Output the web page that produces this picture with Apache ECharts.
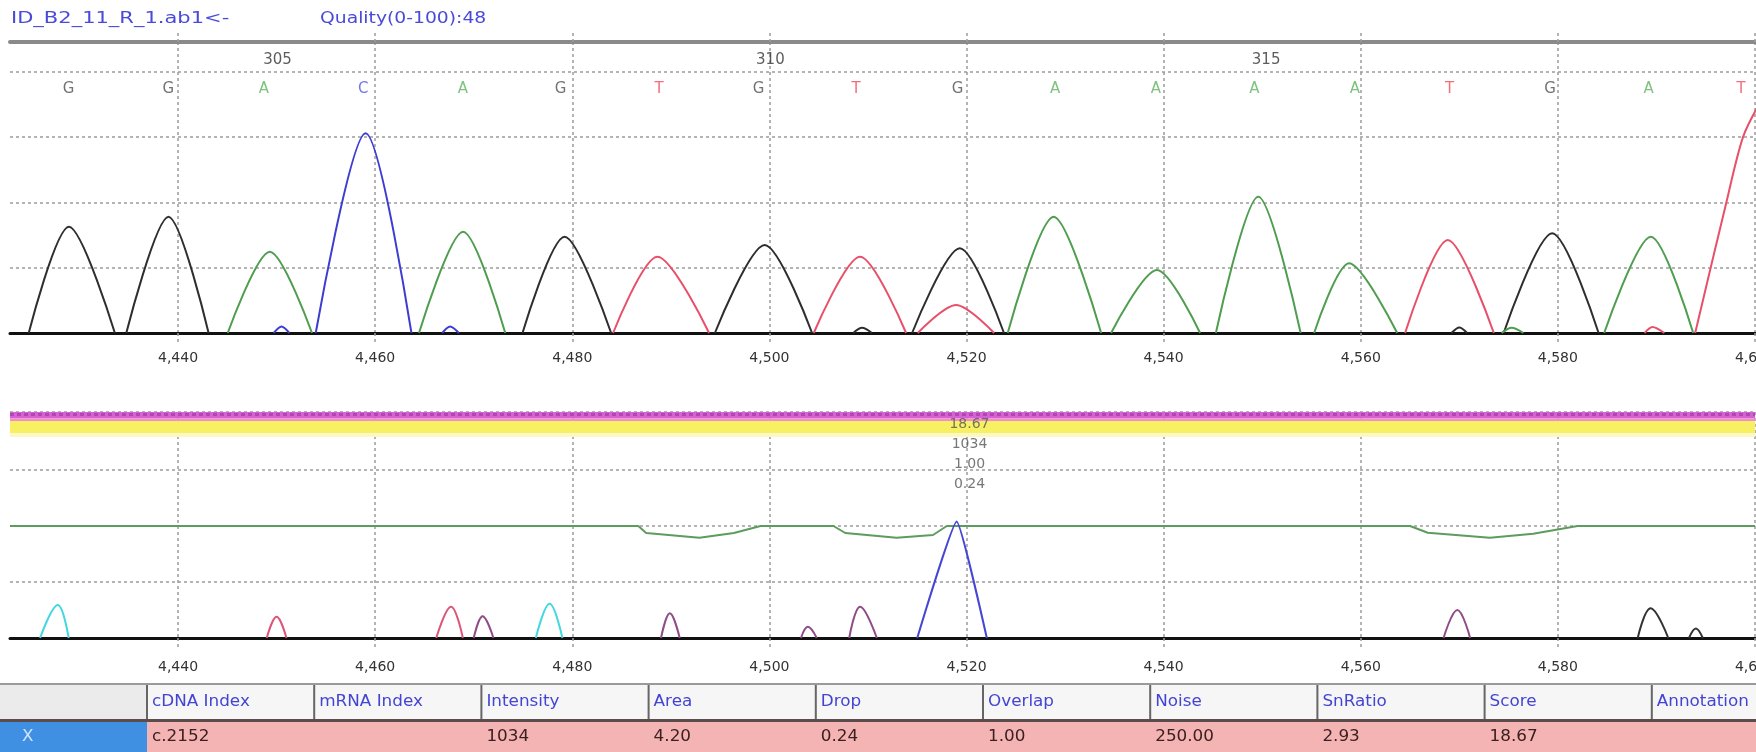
<!DOCTYPE html>
<html>
<head>
<meta charset="utf-8">
<script src="https://cdn.jsdelivr.net/npm/echarts@6/dist/echarts.min.js"></script>
<style>
html,body{margin:0;padding:0;background:#ffffff;}
#c{width:1756px;height:752px;}
</style>
</head>
<body>
<div id="c"></div>
<script>
// ---------------- data ----------------
const fileName = 'ID_B2_11_R_1.ab1<-';
const qualityText = 'Quality(0-100):48';

const xMin = 4422.95, xMax = 4600;
const xTickValues = [4440, 4460, 4480, 4500, 4520, 4540, 4560, 4580, 4600];

// base calls
const baseCalls = ['G','G','A','C','A','G','T','G','T','G','A','A','A','A','T','G','A','T'];
const baseCallX = [4428.9,4439.0,4448.7,4458.8,4468.9,4478.8,4488.8,4498.9,4508.8,4519.1,4529.0,4539.2,4549.2,4559.4,4569.0,4579.2,4589.2,4598.6];
const baseNumbers = [305, 310, 315];
const baseNumberX = [4450.1, 4500.1, 4550.4];

// chromatogram peaks: [leftFoot, apexX, apexHeight, rightFoot]
const peaksG = [
  [4424.85,4428.93,1628,4433.59],[4434.75,4439.03,1781,4443.10],[4474.95,4479.22,1475,4483.94],
  [4494.47,4499.52,1348,4504.33],[4514.48,4519.32,1297,4523.80],[4574.50,4579.42,1527,4584.13],
  [4508.5,4509.4,80,4510.4],[4569.2,4570.0,85,4570.8]
];
const peaksA = [
  [4445.04,4449.31,1245,4453.59],[4464.45,4468.92,1551,4473.20],[4524.18,4528.84,1781,4533.66],
  [4534.67,4539.32,965,4543.70],[4545.30,4549.60,2087,4553.90],[4555.27,4558.82,1067,4563.70],
  [4584.70,4589.43,1475,4593.73],[4574.3,4575.3,80,4576.5]
];
const peaksC = [
  [4453.97,4459.03,3058,4463.68],[4449.7,4450.5,100,4451.3],[4466.8,4467.6,100,4468.5]
];
const peaksT = [
  [4484.14,4488.64,1168,4493.88],[4504.50,4509.20,1168,4513.87],[4515.05,4518.94,429,4522.80],
  [4564.50,4568.83,1424,4573.50],[4588.8,4589.6,90,4590.8]
];
const edgePeakT = [[4593.93,0],[4597.08,1990],[4598.8,3006],[4600.6,3550]];

// lower panel
const mobilityLine = [
  [xMin,2],[4486.7,2],[4487.5,1.875],[4492.9,1.79],[4496.4,1.875],[4499.1,2],
  [4506.5,2],[4507.7,1.875],[4512.9,1.79],[4516.6,1.84],[4518.0,2],
  [4565.0,2],[4566.8,1.88],[4573.1,1.79],[4577.5,1.86],[4582.0,2],[xMax,2]
];
const lowerPeaksCyan = [[4426.0,4427.8,0.59,4428.9],[4476.3,4477.7,0.61,4479.0]];
const lowerPeaksRed = [[4449.0,4450.0,0.38,4451.0],[4466.2,4467.7,0.56,4468.9]];
const lowerPeaksPurple = [[4470.0,4470.9,0.39,4472.0],[4489.0,4489.9,0.44,4490.9],[4503.2,4503.9,0.20,4504.8],[4508.1,4509.2,0.56,4510.9],[4568.4,4569.8,0.50,4571.1]];
const lowerPeaksBlue = [[4515.0,4519.0,2.08,4522.06]];
const lowerPeaksBlack = [[4588.1,4589.4,0.53,4591.2],[4593.3,4594.0,0.17,4594.7]];
const selectedPeakX = 4520.3;

// table
const tableHeaders = ['', 'cDNA Index', 'mRNA Index', 'Intensity', 'Area', 'Drop', 'Overlap', 'Noise', 'SnRatio', 'Score', 'Annotation'];
const tableRow = ['X', 'c.2152', '', '1034', '4.20', '0.24', '1.00', '250.00', '2.93', '18.67', ''];
const peakLabelFields = ['Score', 'Intensity', 'Overlap', 'Drop'];

// ---------------- styles ----------------
const FONT = 'DejaVu Sans';
const traceColor = {G:'#2e2e2e', A:'#4f9d4f', C:'#3d3dd2', T:'#e8506a'};
const letterColor = {G:'#505050', A:'#5fb35f', C:'#5454e0', T:'#ef4a5c'};
const gridDash = {color:'#9c9c9c', type:[3,3], width:1.5};

function segs(peaks) {
  const out = [];
  peaks.forEach(p => { out.push([p[0],0],[p[1],p[2]],[p[3],0],[p[3],null]); });
  return out;
}
function lineSeries(data, color, xi, yi, smooth, width) {
  return {type:'line', xAxisIndex:xi, yAxisIndex:yi, data:data, showSymbol:false, symbol:'none',
    smooth:smooth, connectNulls:false, clip:true, silent:true,
    lineStyle:{color:color, width:width || 2}, z:3};
}
const fmt = v => Number(v).toLocaleString('en-US');

const xCommon = {type:'value', min:xMin, max:xMax};
const tickStyle = {show:true, customValues:xTickValues, length:9, lineStyle:gridDash};

const labelText = peakLabelFields.map(f => tableRow[tableHeaders.indexOf(f)]).join('\n');

const series = [
  lineSeries(segs(peaksG), traceColor.G, 0, 0, 0.3),
  lineSeries(segs(peaksA), traceColor.A, 0, 0, 0.3),
  lineSeries(segs(peaksC), traceColor.C, 0, 0, 0.3),
  lineSeries(segs(peaksT).concat(edgePeakT), traceColor.T, 0, 0, 0.3),
  {type:'scatter', xAxisIndex:0, yAxisIndex:0, symbolSize:1, silent:true, z:5,
   itemStyle:{color:'rgba(0,0,0,0)'},
   data: baseCallX.map((x,i) => ({value:[x,3737], name:baseCalls[i], label:{color:letterColor[baseCalls[i]]}})),
   label:{show:true, position:'inside', formatter:p => p.name, fontSize:15, fontFamily:FONT}},
  {type:'scatter', xAxisIndex:0, yAxisIndex:0, symbolSize:1, silent:true, z:5,
   itemStyle:{color:'rgba(0,0,0,0)'},
   data: baseNumberX.map((x,i) => ({value:[x,4180], name:String(baseNumbers[i])})),
   label:{show:true, position:'inside', formatter:p => p.name, fontSize:15, fontFamily:FONT, color:'#333'}},
  // lower panel
  Object.assign(lineSeries(mobilityLine, '#5c9c5c', 2, 1, false, 2), {
    markArea:{silent:true, label:{show:false}, data:[
      [{yAxis:4.036, itemStyle:{color:'#d462d4'}}, {yAxis:3.925}],
      [{yAxis:3.925, itemStyle:{color:'#f38ccb'}}, {yAxis:3.875}],
      [{yAxis:3.875, itemStyle:{color:'#f6f062'}}, {yAxis:3.655}],
      [{yAxis:3.655, itemStyle:{color:'#fbf8c4'}}, {yAxis:3.59}]
    ]},
    markLine:{silent:true, symbol:'none', label:{show:false},
      lineStyle:{color:'#b246b2', type:[4,3], width:3}, data:[{yAxis:3.99}]}
  }),
  lineSeries(segs(lowerPeaksCyan), '#43d7e0', 2, 1, 0.4),
  lineSeries(segs(lowerPeaksRed), '#dc5676', 2, 1, 0.4),
  lineSeries(segs(lowerPeaksPurple), '#8f4c88', 2, 1, 0.4),
  lineSeries(segs(lowerPeaksBlue), '#4545d6', 2, 1, 0.12),
  lineSeries(segs(lowerPeaksBlack), '#333333', 2, 1, 0.4),
  {type:'scatter', xAxisIndex:2, yAxisIndex:1, symbolSize:1, silent:true, z:10,
   itemStyle:{color:'rgba(0,0,0,0)'},
   data:[{value:[selectedPeakX, 4.0], name:labelText}],
   label:{show:true, position:'bottom', distance:0, formatter:p => p.name, fontSize:14, lineHeight:20,
     fontFamily:FONT, color:'#555', align:'center'}}
];

// ---------------- table (graphic) ----------------
const graphic = [];
const colX = i => (i === 0 ? 0 : 147 + (i - 1) * 167.2);
graphic.push({type:'rect', shape:{x:0,y:685,width:1756,height:34}, style:{fill:'#f6f6f6'}, silent:true});
graphic.push({type:'rect', shape:{x:0,y:685,width:147,height:34}, style:{fill:'#ebebeb'}, silent:true});
graphic.push({type:'rect', shape:{x:0,y:722,width:1756,height:30}, style:{fill:'#f5b4b4'}, silent:true});
graphic.push({type:'rect', shape:{x:0,y:722,width:147,height:30}, style:{fill:'#3f8fe2'}, silent:true});
graphic.push({type:'line', shape:{x1:0,y1:684,x2:1756,y2:684}, style:{stroke:'#9a9a9a', lineWidth:2}, silent:true});
graphic.push({type:'line', shape:{x1:0,y1:720.5,x2:1756,y2:720.5}, style:{stroke:'#5c4c4c', lineWidth:3}, silent:true});
for (let i = 1; i < tableHeaders.length; i++) {
  const x = colX(i);
  graphic.push({type:'line', shape:{x1:x,y1:685,x2:x,y2:719}, style:{stroke:'#666', lineWidth:2}, silent:true});
  graphic.push({type:'text', x:x + 5, y:702, scaleX:1.12, silent:true,
    style:{text:tableHeaders[i], font:'15px "DejaVu Sans"', fill:'#4444d4', align:'left', verticalAlign:'middle'}});
}
for (let i = 0; i < tableRow.length; i++) {
  if (!tableRow[i]) continue;
  const x = i === 0 ? 22 : colX(i) + 5;
  graphic.push({type:'text', x:x, y:737, scaleX:1.12, silent:true,
    style:{text:tableRow[i], font:'15px "DejaVu Sans"', fill: i === 0 ? '#cfe6ff' : '#3a2020', align:'left', verticalAlign:'middle'}});
}
graphic.push({type:'text', x:11, y:19, scaleX:1.4, silent:true,
  style:{text:fileName, font:'15px "DejaVu Sans"', fill:'#4a4ad8', align:'left', verticalAlign:'middle'}});
graphic.push({type:'text', x:320, y:19, scaleX:1.25, silent:true,
  style:{text:qualityText, font:'15px "DejaVu Sans"', fill:'#4a4ad8', align:'left', verticalAlign:'middle'}});

const option = {
  animation:false,
  backgroundColor:'#ffffff',
  textStyle:{fontFamily:FONT},
  grid:[
    {left:10, right:1, top:42, height:291, containLabel:false, outerBoundsMode:'none'},
    {left:10, right:1, top:412, height:226, containLabel:false, outerBoundsMode:'none'}
  ],
  xAxis:[
    Object.assign({}, xCommon, {gridIndex:0, position:'bottom',
      axisLine:{show:true, onZero:false, lineStyle:{color:'#111', width:3}},
      axisTick:tickStyle,
      axisLabel:{show:true, customValues:xTickValues, margin:18, color:'#333', fontSize:14, fontFamily:FONT, formatter:fmt},
      splitLine:{show:true, lineStyle:gridDash}}),
    Object.assign({}, xCommon, {gridIndex:0, position:'top',
      axisLine:{show:true, onZero:false, lineStyle:{color:'#8a8a8a', width:4}},
      axisTick:tickStyle,
      axisLabel:{show:false},
      splitLine:{show:false}}),
    Object.assign({}, xCommon, {gridIndex:1, position:'bottom',
      axisLine:{show:true, onZero:false, lineStyle:{color:'#111', width:3}},
      axisTick:tickStyle,
      axisLabel:{show:true, customValues:xTickValues, margin:22, color:'#333', fontSize:14, fontFamily:FONT, formatter:fmt},
      splitLine:{show:true, lineStyle:gridDash}})
  ],
  yAxis:[
    {gridIndex:0, type:'value', min:0, max:4456, interval:1000,
     axisLine:{show:false}, axisTick:{show:false}, axisLabel:{show:false},
     splitLine:{show:true, lineStyle:gridDash}},
    {gridIndex:1, type:'value', min:0, max:4.036, interval:1,
     axisLine:{show:false}, axisTick:{show:false}, axisLabel:{show:false},
     splitLine:{show:true, lineStyle:gridDash}}
  ],
  series:series,
  graphic:graphic
};

const chart = echarts.init(document.getElementById('c'), null, {renderer:'canvas'});
chart.setOption(option);
</script>
</body>
</html>
